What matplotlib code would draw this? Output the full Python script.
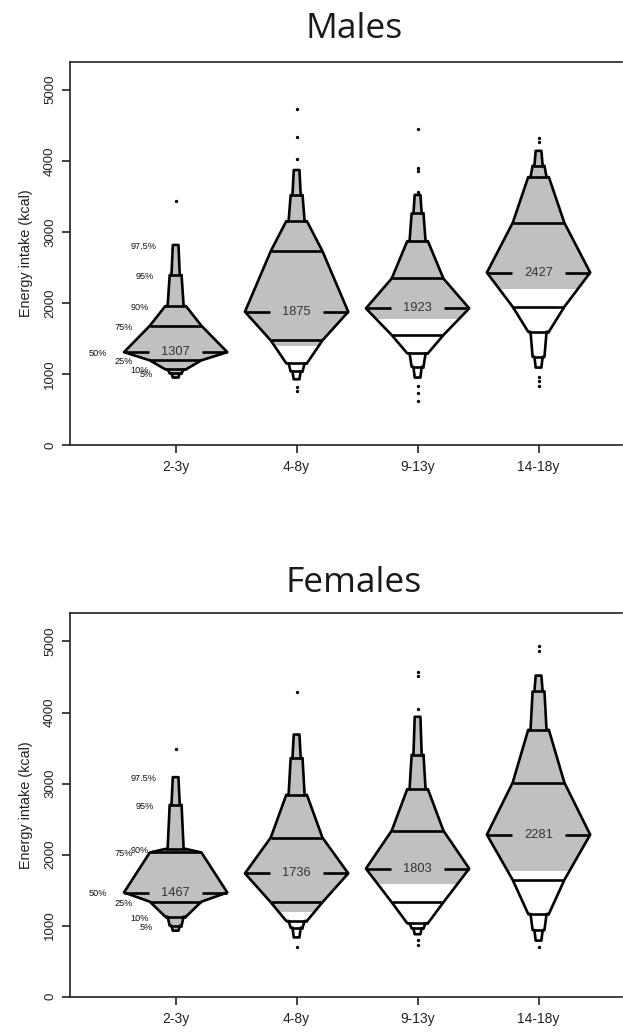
import matplotlib
matplotlib.use('Agg')
import matplotlib.pyplot as plt
from matplotlib.patches import Polygon, Rectangle

# ---------------- data ----------------
groups = ['2-3y', '4-8y', '9-13y', '14-18y']
pct_levels = [2.5, 5, 10, 25, 50, 75, 90, 95, 97.5]
pct_labels = ['2.5%', '5%', '10%', '25%', '50%', '75%', '90%', '95%', '97.5%']

# quantiles (kcal) at pct_levels, per age group
male_quantiles = [
    [950, 1008, 1065, 1192, 1307, 1678, 1955, 2391, 2815],
    [925, 1035, 1150, 1472, 1875, 2729, 3150, 3516, 3870],
    [950, 1101, 1290, 1547, 1923, 2344, 2869, 3259, 3520],
    [1090, 1242, 1594, 1945, 2427, 3127, 3770, 3930, 4140],
]
female_quantiles = [
    [930, 1000, 1127, 1338, 1467, 2030, 2080, 2700, 3090],
    [835, 972, 1066, 1329, 1736, 2240, 2841, 3357, 3690],
    [880, 963, 1034, 1329, 1803, 2338, 2921, 3404, 3940],
    [790, 939, 1165, 1644, 2281, 3014, 3756, 4296, 4520],
]
# median labels
male_medians = [1307, 1875, 1923, 2427]
female_medians = [1467, 1736, 1803, 2281]
# lower limit of grey shading
male_grey_from = [900, 1400, 1768, 2190]
female_grey_from = [900, 1197, 1587, 1770]
# outliers
male_outliers = [
    [3432],
    [4726, 4336, 4022, 820, 764],
    [4444, 3905, 3853, 3560, 830, 727, 625],
    [4314, 4266, 961, 895, 830],
]
female_outliers = [
    [3489],
    [4287, 704],
    [4577, 4507, 4052, 799, 728],
    [4939, 4859, 704],
]
yticks = [0, 1000, 2000, 3000, 4000, 5000]

# ---------------- style ----------------
W = 0.427            # half width at median (x units)
LW = 1.9
GREY = '#c0c0c0'
FONT = ['Liberation Sans', 'DejaVu Sans']
# relative half widths of outline nodes: (quantile index, fraction of W)
outline_nodes = [(0, 0.055), (1, 0.08), (1, 0.115), (2, 0.155), (2, 0.2),
                 (3, 0.5), (4, 1.0), (5, 0.5), (6, 0.2), (6, 0.155),
                 (7, 0.115), (7, 0.08), (8, 0.055)]
line_widths = {1: 0.115, 2: 0.2, 3: 0.5, 5: 0.5, 6: 0.2, 7: 0.115}
label_widths = {1: 0.12, 2: 0.2, 3: 0.5, 4: 1.0, 5: 0.5, 6: 0.2, 7: 0.1, 8: 0.05}

fig = plt.figure(figsize=(6.23, 10.33), dpi=100)


def draw_panel(ax, quantiles, medians, grey_from, outliers, title, title_y):
    ymax = 5395
    for gi, q in enumerate(quantiles):
        cx = gi + 1
        right = [(cx + W * r, q[i]) for i, r in outline_nodes]
        left = [(cx - W * r, q[i]) for i, r in reversed(outline_nodes)]
        pts = right + left
        base = Polygon(pts, closed=True, facecolor='white', edgecolor='none', zorder=2)
        ax.add_patch(base)
        rect = Rectangle((cx - W * 1.05, grey_from[gi]), 2.1 * W, ymax - grey_from[gi],
                         facecolor=GREY, edgecolor='none', zorder=2.5)
        ax.add_patch(rect)
        rect.set_clip_path(base)
        outline = Polygon(pts, closed=True, fill=False, edgecolor='black',
                          linewidth=LW, joinstyle='round', zorder=4)
        ax.add_patch(outline)
        for i, r in line_widths.items():
            ax.plot([cx - W * r, cx + W * r], [q[i], q[i]], color='black',
                    lw=LW, solid_capstyle='butt', zorder=4)
        m = medians[gi]
        ax.plot([cx - W, cx - 0.52 * W], [m, m], color='black', lw=LW,
                solid_capstyle='butt', zorder=4)
        ax.plot([cx + 0.52 * W, cx + W], [m, m], color='black', lw=LW,
                solid_capstyle='butt', zorder=4)
        ax.text(cx, m, str(m), ha='center', va='center', fontsize=9.3,
                color='#333333', family=FONT, zorder=5)
        ax.plot([cx] * len(outliers[gi]), outliers[gi], 'o', color='black',
                ms=2.4, mew=0, zorder=4)
        if gi == 0:
            for i, r in label_widths.items():
                ax.text(cx - W * r - 0.135, q[i] - 20, pct_labels[i], ha='right',
                        va='center', fontsize=6.6, color='#111111',
                        family=FONT, zorder=5)

    ax.set_xlim(0.127, 4.69)
    ax.set_ylim(0, ymax)
    ax.set_xticks(range(1, len(groups) + 1))
    ax.set_xticklabels(groups, fontsize=10, family=FONT, color='#222222')
    ax.set_yticks(yticks)
    ax.set_yticklabels([str(v) for v in yticks], rotation=90, va='center',
                       fontsize=9.5, family=FONT, color='#222222')
    ax.tick_params(axis='both', direction='out', length=6, width=1.2, colors='#222222')
    ax.tick_params(axis='x', pad=5)
    ax.tick_params(axis='y', pad=4)
    for s in ['left', 'bottom', 'top']:
        ax.spines[s].set_linewidth(1.2)
        ax.spines[s].set_color('#222222')
    ax.spines['right'].set_visible(False)
    ax.set_ylabel('Energy intake (kcal)', fontsize=10.4, family=FONT,
                  color='#222222', labelpad=8)
    fig.text(0.568, title_y, title, ha='center', va='baseline', fontsize=25.5,
             family=['Open Sans', 'DejaVu Sans'], color='#1a1a1a')


ax_m = fig.add_axes([0.1124, 0.5692, 0.886, 0.3711])
ax_f = fig.add_axes([0.1124, 0.0351, 0.886, 0.3711])
draw_panel(ax_m, male_quantiles, male_medians, male_grey_from, male_outliers, 'Males', 0.9629)
draw_panel(ax_f, female_quantiles, female_medians, female_grey_from, female_outliers, 'Females', 0.4272)

fig.savefig('out.png', dpi=100)
